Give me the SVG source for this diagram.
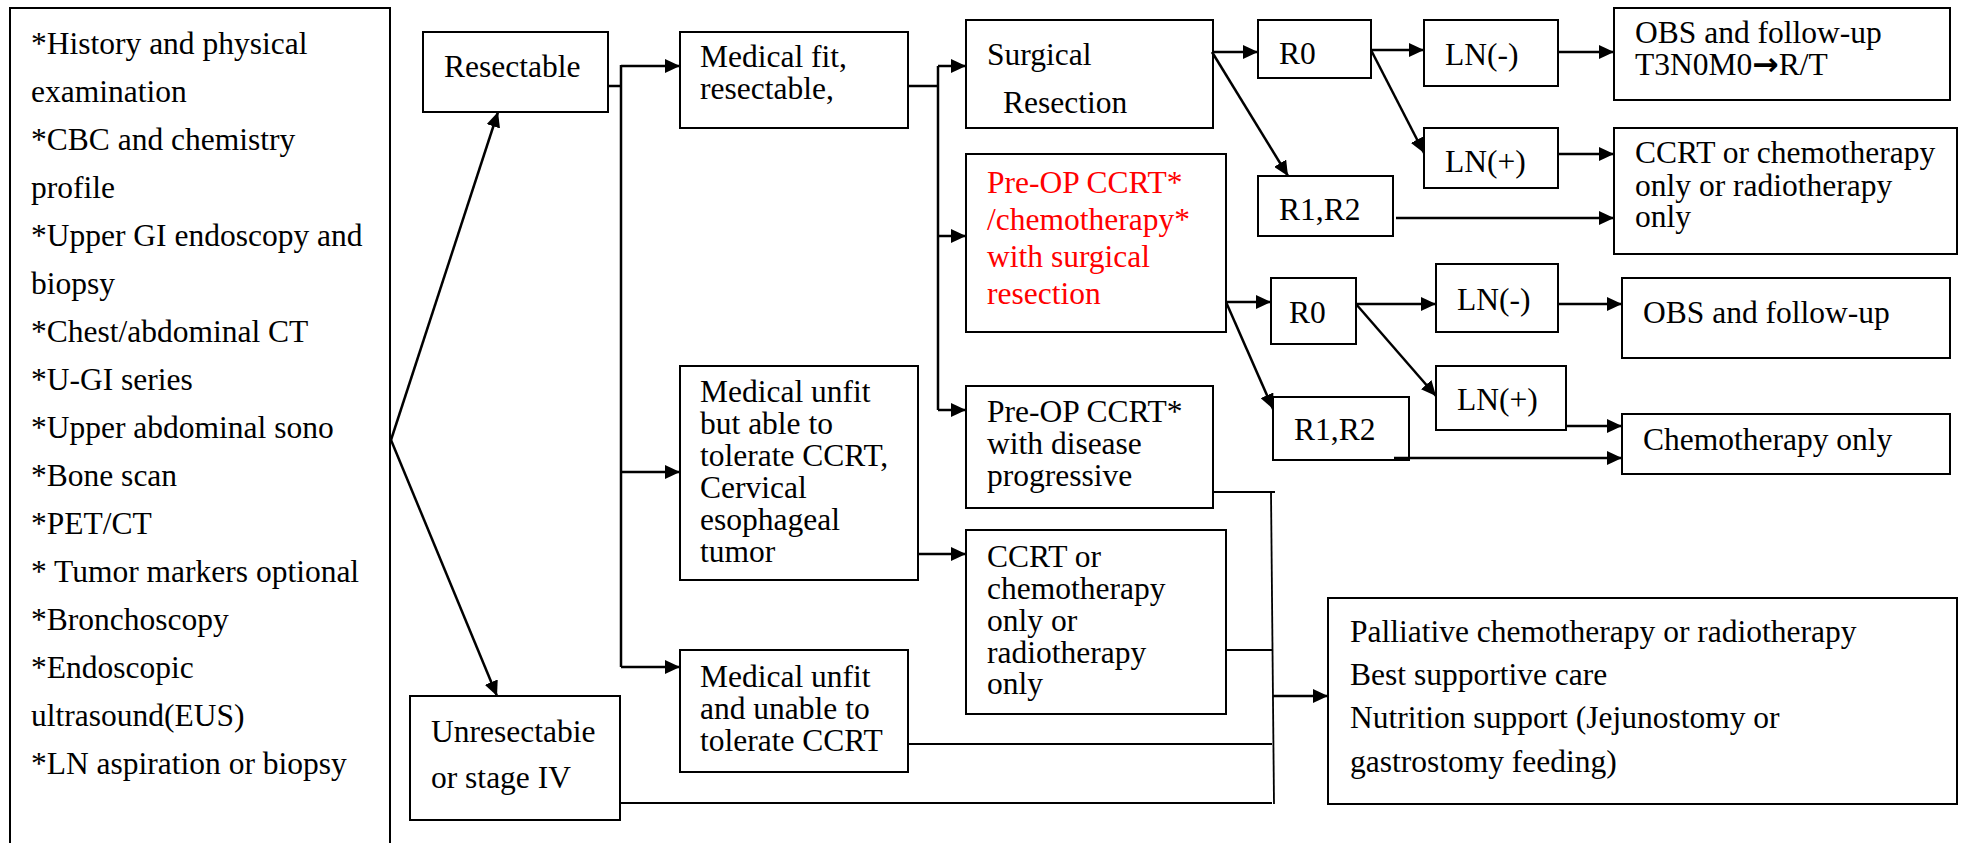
<svg xmlns="http://www.w3.org/2000/svg" width="1961" height="843" viewBox="0 0 1961 843" font-family="'Liberation Serif', 'Times New Roman', 'DejaVu Serif', serif">
<defs>
<marker id="ah" markerUnits="userSpaceOnUse" markerWidth="16" markerHeight="14" refX="15" refY="7" orient="auto">
<path d="M0,0 L15,7 L0,14 Z" fill="#000"/>
</marker>
<style>
.box{fill:#fff;stroke:#000;stroke-width:2}
.t{font-family:'Liberation Serif','Times New Roman','DejaVu Serif',serif;font-size:31.5px;fill:#000}
.red{fill:#ff0000}
.c{fill:none;stroke:#000;stroke-width:2.5}
.a{fill:none;stroke:#000;stroke-width:2.5;marker-end:url(#ah)}
.thin{fill:none;stroke:#000;stroke-width:1.8}
</style>
</defs>
<rect width="1961" height="843" fill="#fff"/>

<g id="workup">
<path d="M10,860 V8 H390 V860" class="box"/>
<text class="t" x="31"><tspan x="31" y="54">*History and physical</tspan><tspan x="31" y="102">examination</tspan><tspan x="31" y="150">*CBC and chemistry</tspan><tspan x="31" y="198">profile</tspan><tspan x="31" y="246">*Upper GI endoscopy and</tspan><tspan x="31" y="294">biopsy</tspan><tspan x="31" y="342">*Chest/abdominal CT</tspan><tspan x="31" y="390">*U-GI series</tspan><tspan x="31" y="438">*Upper abdominal sono</tspan><tspan x="31" y="486">*Bone scan</tspan><tspan x="31" y="534">*PET/CT</tspan><tspan x="31" y="582">* Tumor markers optional</tspan><tspan x="31" y="630">*Bronchoscopy</tspan><tspan x="31" y="678">*Endoscopic</tspan><tspan x="31" y="726">ultrasound(EUS)</tspan><tspan x="31" y="774">*LN aspiration or biopsy</tspan></text>
</g>

<g id="resectable">
<rect x="423" y="32" width="185" height="80" class="box"/>
<text class="t" x="444" y="77">Resectable</text>
</g>

<g id="unresectable">
<rect x="410" y="696" width="210" height="124" class="box"/>
<text class="t"><tspan x="431" y="742">Unresectabie</tspan><tspan x="431" y="788">or stage IV</tspan></text>
</g>

<g id="medfit">
<rect x="680" y="32" width="228" height="96" class="box"/>
<text class="t"><tspan x="700" y="67">Medical fit,</tspan><tspan x="700" y="99">resectable,</tspan></text>
</g>

<g id="medunfit-able">
<rect x="680" y="366" width="238" height="214" class="box"/>
<text class="t"><tspan x="700" y="402">Medical unfit</tspan><tspan x="700" y="434">but able to</tspan><tspan x="700" y="466">tolerate CCRT,</tspan><tspan x="700" y="498">Cervical</tspan><tspan x="700" y="530">esophageal</tspan><tspan x="700" y="562">tumor</tspan></text>
</g>

<g id="medunfit-unable">
<rect x="680" y="650" width="228" height="122" class="box"/>
<text class="t"><tspan x="700" y="687">Medical unfit</tspan><tspan x="700" y="719">and unable to</tspan><tspan x="700" y="751">tolerate CCRT</tspan></text>
</g>

<g id="surgical">
<rect x="966" y="20" width="247" height="108" class="box"/>
<text class="t"><tspan x="987" y="65">Surgical</tspan><tspan x="1003" y="113">Resection</tspan></text>
</g>

<g id="preop-surgery">
<rect x="966" y="154" width="260" height="178" class="box"/>
<text class="t red"><tspan x="987" y="193">Pre-OP CCRT*</tspan><tspan x="987" y="230">/chemotherapy*</tspan><tspan x="987" y="267">with surgical</tspan><tspan x="987" y="304">resection</tspan></text>
</g>

<g id="preop-progressive">
<rect x="966" y="386" width="247" height="122" class="box"/>
<text class="t"><tspan x="987" y="422">Pre-OP CCRT*</tspan><tspan x="987" y="454">with disease</tspan><tspan x="987" y="486">progressive</tspan></text>
</g>

<g id="ccrt-mid">
<rect x="966" y="530" width="260" height="184" class="box"/>
<text class="t"><tspan x="987" y="567">CCRT or</tspan><tspan x="987" y="599">chemotherapy</tspan><tspan x="987" y="631">only or</tspan><tspan x="987" y="663">radiotherapy</tspan><tspan x="987" y="694">only</tspan></text>
</g>

<g id="r0-a">
<rect x="1258" y="20" width="113" height="58" class="box"/>
<text class="t" x="1279" y="64">R0</text>
</g>

<g id="r12-a">
<rect x="1258" y="176" width="135" height="60" class="box"/>
<text class="t" x="1279" y="220">R1,R2</text>
</g>

<g id="r0-b">
<rect x="1271" y="278" width="85" height="66" class="box"/>
<text class="t" x="1289" y="323">R0</text>
</g>

<g id="r12-b">
<rect x="1273" y="397" width="136" height="63" class="box"/>
<text class="t" x="1294" y="440">R1,R2</text>
</g>

<g id="lnneg-a">
<rect x="1424" y="20" width="134" height="66" class="box"/>
<text class="t" x="1445" y="65">LN(-)</text>
</g>

<g id="lnpos-a">
<rect x="1424" y="128" width="134" height="60" class="box"/>
<text class="t" x="1445" y="172">LN(+)</text>
</g>

<g id="lnneg-b">
<rect x="1436" y="264" width="122" height="68" class="box"/>
<text class="t" x="1457" y="310">LN(-)</text>
</g>

<g id="lnpos-b">
<rect x="1436" y="366" width="130" height="64" class="box"/>
<text class="t" x="1457" y="410">LN(+)</text>
</g>

<g id="obs-a">
<rect x="1614" y="8" width="336" height="92" class="box"/>
<text class="t"><tspan x="1635" y="43">OBS and follow-up</tspan><tspan x="1635" y="75">T3N0M0</tspan><tspan font-family="'DejaVu Sans', sans-serif" font-weight="bold">→</tspan><tspan>R/T</tspan></text>
</g>

<g id="ccrt-right">
<rect x="1614" y="128" width="343" height="126" class="box"/>
<text class="t"><tspan x="1635" y="163">CCRT or chemotherapy</tspan><tspan x="1635" y="196">only or radiotherapy</tspan><tspan x="1635" y="227">only</tspan></text>
</g>

<g id="obs-b">
<rect x="1622" y="278" width="328" height="80" class="box"/>
<text class="t" x="1643" y="323">OBS and follow-up</text>
</g>

<g id="chemo-only">
<rect x="1622" y="414" width="328" height="60" class="box"/>
<text class="t" x="1643" y="450">Chemotherapy only</text>
</g>

<g id="palliative">
<rect x="1328" y="598" width="629" height="206" class="box"/>
<text class="t"><tspan x="1350" y="642">Palliative chemotherapy or radiotherapy</tspan><tspan x="1350" y="685">Best supportive care</tspan><tspan x="1350" y="728">Nutrition support (Jejunostomy or</tspan><tspan x="1350" y="772">gastrostomy feeding)</tspan></text>
</g>

<g id="connectors">
<path class="a" d="M391,440 L498,112"/>
<path class="a" d="M391,440 L497,696"/>
<path class="c" d="M608,86 H621 M621,65 V667"/>
<path class="a" d="M621,66 H680"/>
<path class="a" d="M621,472 H680"/>
<path class="a" d="M621,667 H680"/>
<path class="c" d="M908,86 H938 M938,66 V410"/>
<path class="a" d="M938,66 H966"/>
<path class="a" d="M938,236 H966"/>
<path class="a" d="M938,410 H966"/>
<path class="a" d="M1212,52 H1258"/>
<path class="a" d="M1212,52 L1288,176"/>
<path class="a" d="M1371,50 H1424"/>
<path class="a" d="M1371,50 L1424,153"/>
<path class="a" d="M1558,52 H1614"/>
<path class="a" d="M1558,154 H1614"/>
<path class="a" d="M1396,218 H1614"/>
<path class="a" d="M1226,302 H1271"/>
<path class="a" d="M1226,302 L1273,409"/>
<path class="a" d="M1356,304 H1436"/>
<path class="a" d="M1356,304 L1436,396"/>
<path class="a" d="M1558,304 H1622"/>
<path class="a" d="M1566,426 H1622"/>
<path class="a" d="M1394,458 H1622"/>
<path class="a" d="M918,554 H966"/>
<path class="thin" d="M1213,492 H1275"/>
<path class="thin" d="M1226,650 H1272"/>
<path class="thin" d="M908,744 H1272"/>
<path class="thin" d="M620,803 H1272"/>
<path class="thin" d="M1271,492 L1274,804"/>
<path class="a" d="M1273,696 H1328"/>
</g>
</svg>
